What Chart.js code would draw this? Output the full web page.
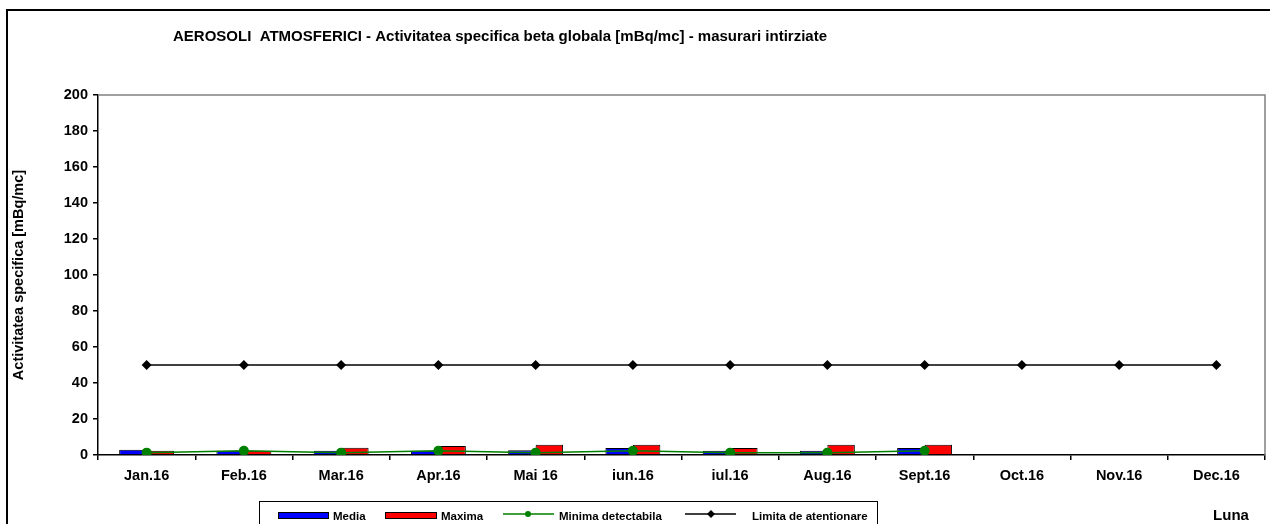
<!DOCTYPE html>
<html lang="ro">
<head>
    <meta charset="UTF-8">
    <title>Aerosoli atmosferici</title>
    <style>
        body { margin: 0; background: #fff; }
        .chart-container { width: 1270px; height: 524px; }
    </style>
</head>
<body>
    <div class="chart-container">
        <canvas id="betaChart"></canvas>
    </div>
    <script src="https://cdn.jsdelivr.net/npm/chart.js"></script>
    <script>
        const luni = ['Jan.16', 'Feb.16', 'Mar.16', 'Apr.16', 'Mai 16', 'iun.16', 'iul.16', 'Aug.16', 'Sept.16', 'Oct.16', 'Nov.16', 'Dec.16'];
        const media = [2.9, 2.4, 2.4, 2.4, 2.6, 3.9, 2.4, 2.4, 3.9, null, null, null];
        const maxima = [2.4, 2.4, 4.0, 5.0, 5.7, 5.7, 3.9, 5.7, 5.7, null, null, null];
        const minimaDetectabila = [1.3, 2.4, 1.3, 2.4, 1.3, 2.4, 1.3, 1.3, 2.4, null, null, null];
        const limitaAtentionare = [50, 50, 50, 50, 50, 50, 50, 50, 50, 50, 50, 50];
        const yMax = 200;
        const yStep = 20;

        const FONT = 'Arial, "Liberation Sans", sans-serif';

        // fundal, chenar exterior, titlu, chenar zona grafic, legenda, "Luna"
        const decor = {
            id: 'decor',
            beforeDraw(chart) {
                const c = chart.ctx;
                c.save();
                c.fillStyle = '#fff';
                c.fillRect(0, 0, chart.width, chart.height);
                c.strokeStyle = '#000';
                c.lineWidth = 2;
                c.strokeRect(7, 10, chart.width + 20, chart.height + 20);
                c.restore();
            },
            afterDatasetsDraw(chart) {
                const c = chart.ctx;
                const a = chart.chartArea;
                c.save();
                c.strokeStyle = '#808080';
                c.lineWidth = 1.5;
                c.beginPath();
                c.moveTo(a.left, a.top);
                c.lineTo(a.right, a.top);
                c.lineTo(a.right, a.bottom);
                c.stroke();
                c.restore();
            },
            afterDraw(chart) {
                const c = chart.ctx;
                const ds = chart.data.datasets;
                c.save();
                c.fillStyle = '#000';
                c.font = 'bold 15px ' + FONT;
                c.textAlign = 'center';
                c.textBaseline = 'middle';
                c.fillText('AEROSOLI  ATMOSFERICI - Activitatea specifica beta globala [mBq/mc] - masurari intirziate', 500, 37);

                c.font = 'bold 15px ' + FONT;
                c.fillText('Luna', 1231, 516);

                // legenda
                c.strokeStyle = '#000';
                c.lineWidth = 1;
                c.strokeRect(259.5, 501.5, 618, 40);
                c.font = 'bold 11.5px ' + FONT;
                c.textAlign = 'left';
                const ty = 517;

                c.fillStyle = ds[0].backgroundColor;
                c.fillRect(278, 512, 50, 6);
                c.strokeRect(278.5, 512.5, 50, 6);
                c.fillStyle = '#000';
                c.fillText(ds[0].label, 333, ty);

                c.fillStyle = ds[1].backgroundColor;
                c.fillRect(385, 512, 51, 6);
                c.strokeRect(385.5, 512.5, 51, 6);
                c.fillStyle = '#000';
                c.fillText(ds[1].label, 441, ty);

                c.strokeStyle = ds[2].borderColor;
                c.lineWidth = 1.5;
                c.beginPath(); c.moveTo(503, 514); c.lineTo(554, 514); c.stroke();
                c.fillStyle = ds[2].borderColor;
                c.beginPath(); c.arc(528, 514, 3, 0, Math.PI * 2); c.fill();
                c.fillStyle = '#000';
                c.fillText(ds[2].label, 559, ty);

                c.strokeStyle = '#000';
                c.beginPath(); c.moveTo(685, 514); c.lineTo(736, 514); c.stroke();
                c.beginPath();
                c.moveTo(711, 510); c.lineTo(715, 514); c.lineTo(711, 518); c.lineTo(707, 514);
                c.closePath(); c.fill();
                c.fillText(ds[3].label, 752, ty);
                c.restore();
            }
        };

        const ctx = document.getElementById('betaChart').getContext('2d');
        new Chart(ctx, {
            type: 'bar',
            data: {
                labels: luni,
                datasets: [
                    {
                        label: 'Media',
                        data: media,
                        backgroundColor: '#0000ff',
                        borderColor: '#000',
                        borderWidth: 1,
                        categoryPercentage: 0.565,
                        barPercentage: 1,
                        order: 2
                    },
                    {
                        label: 'Maxima',
                        data: maxima,
                        backgroundColor: '#ff0000',
                        borderColor: '#000',
                        borderWidth: 1,
                        categoryPercentage: 0.565,
                        barPercentage: 1,
                        order: 2
                    },
                    {
                        type: 'line',
                        label: 'Minima detectabila',
                        data: minimaDetectabila,
                        borderColor: '#008000',
                        backgroundColor: '#008000',
                        borderWidth: 1.5,
                        pointRadius: 5,
                        pointBorderWidth: 0,
                        fill: false,
                        order: 0
                    },
                    {
                        type: 'line',
                        label: 'Limita de atentionare',
                        data: limitaAtentionare,
                        borderColor: '#000',
                        backgroundColor: '#000',
                        borderWidth: 1.5,
                        pointStyle: 'rectRot',
                        pointRadius: 5,
                        pointBorderWidth: 0,
                        fill: false,
                        order: 1
                    }
                ]
            },
            options: {
                responsive: true,
                maintainAspectRatio: false,
                animation: false,
                layout: { padding: { top: 95, left: 0, right: 3, bottom: 39 } },
                plugins: {
                    legend: { display: false },
                    title: { display: false },
                    tooltip: { enabled: false }
                },
                scales: {
                    x: {
                        afterFit: s => { s.height = 30; },
                        grid: { drawOnChartArea: false, color: '#000', tickLength: 5, lineWidth: 1.5 },
                        border: { color: '#000', width: 1.5 },
                        ticks: { color: '#000', padding: 7, font: { family: FONT, size: 14.5, weight: 'bold' } }
                    },
                    y: {
                        min: 0,
                        max: yMax,
                        afterFit: s => { s.width = 98; },
                        grid: { drawOnChartArea: false, color: '#000', tickLength: 5, lineWidth: 1.5 },
                        border: { color: '#000', width: 1.5 },
                        ticks: { stepSize: yStep, color: '#000', padding: 5, font: { family: FONT, size: 14.5, weight: 'bold' } },
                        title: {
                            display: true,
                            text: 'Activitatea specifica [mBq/mc]',
                            color: '#000',
                            padding: { top: 10, bottom: 0 },
                            font: { family: FONT, size: 14.5, weight: 'bold' }
                        }
                    }
                }
            },
            plugins: [decor]
        });
    </script>
</body>
</html>
